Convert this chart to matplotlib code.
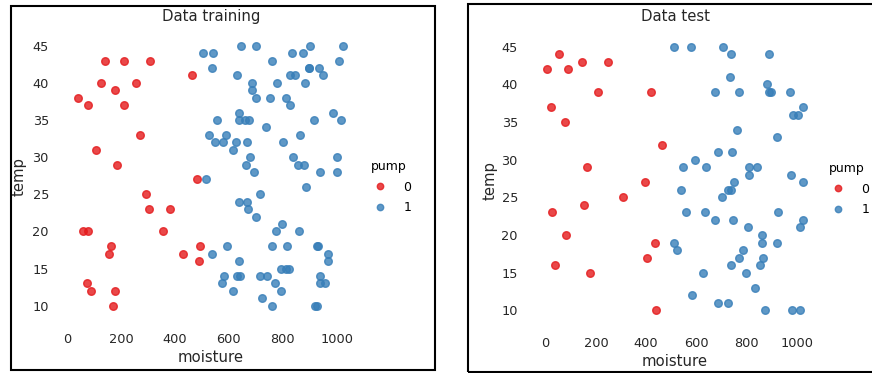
import matplotlib
matplotlib.use("Agg")
import matplotlib.pyplot as plt
from matplotlib.patches import Rectangle
from matplotlib.lines import Line2D

# ---------------- data ----------------
train_m0 = [141, 209, 306, 464, 126, 255, 177, 40, 75, 209, 271, 106, 184, 481, 293, 303, 381, 355,
            57, 77, 162, 156, 493, 429, 489, 72, 87, 177, 168]
train_t0 = [43, 43, 43, 41, 40, 40, 39, 38, 37, 37, 33, 31, 29, 27, 25, 23, 23, 20,
            20, 20, 18, 17, 18, 17, 16, 13, 12, 12, 10]

train_m1 = [646, 700, 903, 1025, 505, 542, 834, 876, 760, 1010, 536, 896, 898, 936, 631, 827, 844, 950,
            686, 778, 884, 686, 700, 752, 812, 827, 637, 985, 556, 639, 660, 676, 915, 1016,
            739, 525, 588, 865, 547, 577, 626, 666, 802, 615, 678, 840, 1001, 662, 855, 880,
            693, 939, 1001, 514, 885, 717, 636, 667, 672, 699, 798, 775, 861, 592, 762, 817,
            926, 932, 536, 970, 636, 970, 793, 814, 824, 583, 632, 641, 714, 740, 938, 574,
            770, 938, 957, 615, 792, 724, 762, 921, 928]
train_t1 = [45, 45, 45, 45, 44, 44, 44, 44, 43, 43, 42, 42, 42, 42, 41, 41, 41, 41,
            40, 40, 40, 39, 38, 38, 38, 37, 36, 36, 35, 35, 35, 35, 35, 35,
            34, 33, 33, 33, 32, 32, 32, 32, 32, 31, 30, 30, 30, 29, 29, 29,
            28, 28, 28, 27, 26, 25, 24, 24, 23, 22, 21, 20, 20, 18, 18, 18,
            18, 18, 17, 17, 16, 16, 15, 15, 15, 14, 14, 14, 14, 14, 14, 13,
            13, 13, 13, 12, 12, 11, 10, 10, 10]

test_m0 = [53, 4, 89, 143, 248, 208, 421, 21, 78, 462, 163, 394, 308, 151, 27, 81, 436, 402, 39, 177, 440]
test_t0 = [44, 42, 42, 43, 43, 39, 39, 37, 35, 32, 29, 27, 25, 24, 23, 20, 19, 17, 16, 15, 10]

test_m1 = [513, 580, 705, 738, 891, 734, 880, 676, 770, 891, 896, 972, 1027, 987, 1007, 762, 920,
           685, 742, 596, 548, 640, 811, 843, 811, 976, 750, 1027, 539, 725, 738, 701,
           559, 636, 924, 673, 746, 1027, 1012, 807, 863, 513, 863, 920, 525, 786, 770, 867,
           738, 855, 628, 798, 835, 582, 688, 726, 875, 983, 1012]
test_t1 = [45, 45, 45, 44, 44, 41, 40, 39, 39, 39, 39, 39, 37, 36, 36, 34, 33,
           31, 31, 30, 29, 29, 29, 29, 28, 28, 27, 27, 26, 26, 26, 25,
           23, 23, 23, 22, 22, 22, 21, 21, 20, 19, 19, 19, 18, 18, 17, 17,
           16, 16, 15, 15, 13, 12, 11, 11, 10, 10, 10]

x_ticks = [0, 200, 400, 600, 800, 1000]
y_ticks = [10, 15, 20, 25, 30, 35, 40, 45]
legend_labels = ["0", "1"]
titles = ["Data training", "Data test"]

RED = "#e41a1c"
BLUE = "#377eb8"

W, H = 872, 373
fig = plt.figure(figsize=(W / 100, H / 100), dpi=100)
plt.rcParams['font.family'] = ['DejaVu Sans']


def px_axes(x0, y0, x1, y1):
    return fig.add_axes([x0 / W, 1 - y1 / H, (x1 - x0) / W, (y1 - y0) / H])


panels = [
    dict(box=(64.9, 32.7, 356.5, 318.7), xlim=(-9, 1074), ylim=(8.25, 46.75),
         m0=train_m0, t0=train_t0, m1=train_m1, t1=train_t1, title=titles[0],
         title_y=16, xlabel_y=357, ylabel_x=19, ylabel_y=177,
         leg=(367, 160), border=(11, 6, 435, 370)),
    dict(box=(533.9, 33.6, 816.3, 323.5), xlim=(-47, 1078), ylim=(8.25, 46.75),
         m0=test_m0, t0=test_t0, m1=test_m1, t1=test_t1, title=titles[1],
         title_y=16.7, xlabel_y=361.7, ylabel_x=490, ylabel_y=180,
         leg=(825, 162), border=(468, 4, 880, 371.5)),
]

for p in panels:
    x0, y0, x1, y1 = p["box"]
    ax = px_axes(x0, y0, x1, y1)
    ax.scatter(p["m0"], p["t0"], s=30, color=RED, alpha=0.8, linewidths=1, zorder=3)
    ax.scatter(p["m1"], p["t1"], s=30, color=BLUE, alpha=0.8, linewidths=1, zorder=3)
    ax.set_xlim(*p["xlim"])
    ax.set_ylim(*p["ylim"])
    ax.set_xticks(x_ticks)
    ax.set_yticks(y_ticks)
    for s in ax.spines.values():
        s.set_visible(False)
    ax.tick_params(axis="both", length=0, labelsize=9.3, colors="#262626")
    ax.tick_params(axis="x", pad=10)
    ax.tick_params(axis="y", pad=11.5)
    hpx = y1 - y0
    wpx = x1 - x0
    ax.set_xlabel("moisture", fontsize=10.7, va="center", color="#262626")
    ax.xaxis.set_label_coords(0.5, (y1 - p["xlabel_y"]) / hpx)
    ax.set_ylabel("temp", fontsize=10.7, va="center", color="#262626")
    ax.yaxis.set_label_coords((p["ylabel_x"] - x0) / wpx, (y1 - p["ylabel_y"]) / hpx)
    ax.set_title(p["title"], fontsize=10.7, y=(y1 - p["title_y"]) / hpx, va="center",
                 pad=0, color="#262626")

    handles = [Line2D([], [], marker="o", ls="none", markersize=4.6, color=RED, alpha=0.8),
               Line2D([], [], marker="o", ls="none", markersize=4.6, color=BLUE, alpha=0.8)]
    lx, ly = p["leg"]
    ax.legend(handles, legend_labels, title="pump", frameon=False, loc="upper left",
              bbox_to_anchor=(lx / W, 1 - ly / H), bbox_transform=fig.transFigure,
              fontsize=9, title_fontsize=9, borderpad=0, borderaxespad=0,
              handlelength=2, handletextpad=0.9, labelspacing=0.6)

    bx0, by0, bx1, by1 = p["border"]
    fig.patches.append(Rectangle((bx0 / W, 1 - by1 / H), (bx1 - bx0) / W, (by1 - by0) / H,
                                 transform=fig.transFigure, fill=False, ec="black", lw=1.5))

fig.savefig("out.png", dpi=100, facecolor="white")
